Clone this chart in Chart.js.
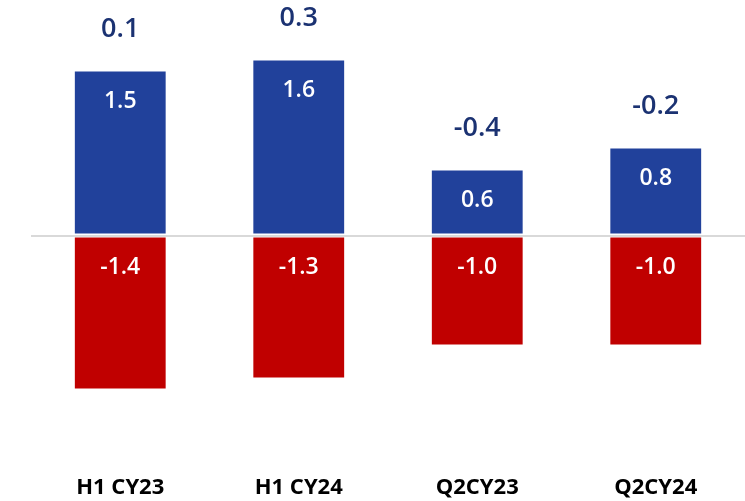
<!DOCTYPE html>
<html>
<head>
<meta charset="utf-8">
<script src="https://cdn.jsdelivr.net/npm/chart.js@4"></script>
<style>
  html, body { margin: 0; padding: 0; background: #fff; }
</style>
</head>
<body>
<canvas id="myChart" width="745" height="501"></canvas>
<script>
// data block
const categories = ['H1 CY23', 'H1 CY24', 'Q2CY23', 'Q2CY24'];
const inflows = [1.5, 1.6, 0.6, 0.8];
const outflows = [-1.4, -1.3, -1.0, -1.0];
const netValues = [0.1, 0.3, -0.4, -0.2];

// labels inside bars (near the zero line side for negatives) + net total above each column
const valueLabels = {
    id: 'valueLabels',
    afterDatasetsDraw(chart, args, options) {
        const { ctx } = chart;
        ctx.save();
        ctx.textAlign = 'center';
        ctx.textBaseline = 'middle';

        ctx.font = '600 23px "Open Sans"';
        ctx.fillStyle = '#ffffff';
        chart.data.datasets.forEach((ds, i) => {
            chart.getDatasetMeta(i).data.forEach((bar, j) => {
                const top = Math.min(bar.y, bar.base);
                ctx.fillText(ds.data[j].toFixed(1), bar.x, top + options.inset);
            });
        });

        ctx.font = '600 27px "Open Sans"';
        ctx.fillStyle = options.netColor;
        const blue = chart.getDatasetMeta(0).data;
        netValues.forEach((v, j) => {
            ctx.fillText(v.toFixed(1), blue[j].x, blue[j].y - options.netOffset);
        });
        ctx.restore();
    }
};

// config block
const config = {
    type: 'bar',
    data: {
        labels: categories,
        datasets: [
            {
                label: 'Inflows',
                data: inflows,
                backgroundColor: '#21419b',
                borderColor: 'rgba(255,255,255,0.45)',
                borderWidth: 1,
                borderSkipped: false
            },
            {
                label: 'Outflows',
                data: outflows,
                backgroundColor: '#c00000',
                borderColor: 'rgba(255,255,255,0.45)',
                borderWidth: 1,
                borderSkipped: false
            }
        ]
    },
    options: {
        responsive: false,
        animation: false,
        layout: {
            padding: { left: 31, right: 0, top: 15.5, bottom: 0 }
        },
        datasets: {
            bar: { categoryPercentage: 1, barPercentage: 0.52 }
        },
        scales: {
            x: {
                stacked: true,
                grid: { display: false, drawTicks: false },
                border: { display: false },
                afterFit: axis => { axis.height = 45.5; },
                ticks: {
                    color: '#000',
                    padding: 19,
                    font: { family: '"Open Sans"', size: 22, weight: 'bold' }
                }
            },
            y: {
                stacked: true,
                display: true,
                min: -2,
                max: 2,
                grid: {
                    drawTicks: false,
                    lineWidth: 2,
                    color: ctx => ctx.tick && ctx.tick.value === 0 ? '#d9d9d9' : 'transparent'
                },
                border: { display: false },
                ticks: { display: false, stepSize: 1 }
            }
        },
        plugins: {
            legend: { display: false },
            tooltip: { enabled: false },
            valueLabels: {
                inset: 31,
                netOffset: 41,
                netColor: '#1b3272'
            }
        }
    },
    plugins: [valueLabels]
};

// init render block
const myChart = new Chart(
    document.getElementById('myChart'),
    config
);
</script>
</body>
</html>
